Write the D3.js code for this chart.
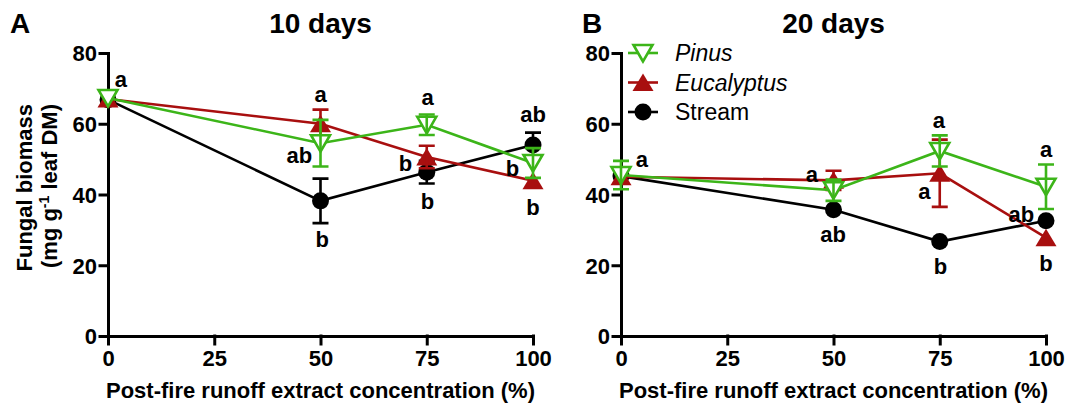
<!DOCTYPE html>
<html>
<head>
<meta charset="utf-8">
<script src="https://cdn.jsdelivr.net/npm/d3@7"></script>
<style>
  html, body { margin: 0; padding: 0; background: #fff; }
  svg { display: block; font-family: "Liberation Sans", Arial, sans-serif; }
  .tick text { font-size: 22px; font-weight: bold; fill: #000; font-family: "Liberation Sans", Arial, sans-serif; }
  .domain, .tick line { stroke: #000; stroke-width: 3px; stroke-linecap: square; }
  .lbl { font-size: 22px; font-weight: bold; }
</style>
</head>
<body>
<svg id="chart" width="1073" height="405"></svg>
<script>
/* Fungal biomass vs post-fire runoff extract concentration, two sampling dates. */
const conc = [0, 50, 75, 100];
const xTicks = [0, 25, 50, 75, 100];
const yTicks = [0, 20, 40, 60, 80];

// 10 days (mean, SE; 0 = bar hidden behind the symbol)
const pinus10 = [67.3, 54.5, 59.7, 48.9];
const pinus10Err = [0, 6.6, 2.9, 4.2];
const euc10 = [67.0, 60.0, 50.6, 43.9];
const euc10Err = [0, 4.0, 3.2, 0];
const stream10 = [66.8, 38.2, 46.3, 54.0];
const stream10Err = [0, 6.3, 3.2, 3.5];

// 20 days
const pinus20 = [45.5, 41.2, 52.3, 42.2];
const pinus20Err = [4.0, 3.0, 4.4, 6.3];
const euc20 = [45.0, 44.0, 46.0, 27.8];
const euc20Err = [0, 2.7, 9.5, 0];
const stream20 = [45.2, 35.7, 26.7, 32.6];
const stream20Err = [0, 0, 0, 0];

// significance letters: [x, y, text] in data units
const letters10 = [[3, 72.6, "a"], [50, 68.4, "a"], [45, 51.2, "ab"], [50.4, 27.4, "b"],
  [75.2, 67.6, "a"], [70, 49, "b"], [75.2, 38, "b"],
  [100, 62.8, "ab"], [95.2, 47.6, "b"], [100, 36.4, "b"]];
const letters20 = [[4.9, 50, "a"], [44.9, 45.8, "a"], [49.9, 28.9, "ab"],
  [74.8, 60.9, "a"], [71.4, 41, "a"], [75.2, 19.8, "b"],
  [100, 52.8, "a"], [94.2, 34.4, "ab"], [100, 20.6, "b"]];

const GREEN = "#3cb519", RED = "#a80f0f", BLACK = "#000";
const seriesDef = [
  { key: "Stream", color: BLACK, shape: "circle", italic: false },
  { key: "Eucalyptus", color: RED, shape: "up", italic: true },
  { key: "Pinus", color: GREEN, shape: "down", italic: true },
];

const svg = d3.select("#chart");
const TOP = 53, BOT = 336, PW = 425;

function marker(g, shape, color, cx, cy) {
  if (shape === "circle") {
    g.append("circle").attr("cx", cx).attr("cy", cy).attr("r", 8.5).attr("fill", color);
  } else if (shape === "up") {
    g.append("path").attr("d", `M${cx},${cy - 9}L${cx - 10.5},${cy + 8.5}L${cx + 10.5},${cy + 8.5}Z`)
      .attr("fill", color);
  } else {
    g.append("path").attr("d", `M${cx},${cy + 8.5}L${cx - 9.5},${cy - 8}L${cx + 9.5},${cy - 8}Z`)
      .attr("fill", "#fff").attr("stroke", color).attr("stroke-width", 2.6).attr("stroke-linejoin", "miter");
  }
}

function panel(left, letterX, letter, title, data, letters, legend) {
  const x = d3.scaleLinear().domain([0, 100]).range([left, left + PW]);
  const y = d3.scaleLinear().domain([0, 80]).range([BOT, TOP]);
  const g = svg.append("g");

  g.append("g").attr("transform", `translate(0,${BOT})`)
    .call(d3.axisBottom(x).tickValues(xTicks).tickSize(8).tickSizeOuter(0).tickPadding(6))
    .selectAll(".tick text").attr("dy", "0.71em");
  g.append("g").attr("transform", `translate(${left},0)`)
    .call(d3.axisLeft(y).tickValues(yTicks).tickSize(8).tickSizeOuter(0).tickPadding(3))
    .selectAll(".tick text").attr("dy", "0.36em");

  g.append("text").attr("x", letterX).attr("y", 33).attr("font-size", 28).attr("font-weight", "bold").text(letter);
  g.append("text").attr("x", left + PW / 2).attr("y", 33).attr("text-anchor", "middle")
    .attr("font-size", 28).attr("font-weight", "bold").text(title);
  g.append("text").attr("x", left + PW / 2).attr("y", 398).attr("text-anchor", "middle")
    .attr("font-size", 22).attr("font-weight", "bold").text("Post-fire runoff extract concentration (%)");

  data.forEach(s => {
    const sg = g.append("g");
    const pts = conc.map((c, i) => [x(c), y(s.v[i])]);
    sg.append("path").attr("d", d3.line()(pts)).attr("fill", "none")
      .attr("stroke", s.color).attr("stroke-width", 2.6);
    conc.forEach((c, i) => marker(sg, s.shape, s.color, x(c), y(s.v[i])));
    conc.forEach((c, i) => {
      if (!s.e[i]) return;
      const cx = x(c), y0 = y(s.v[i] - s.e[i]), y1 = y(s.v[i] + s.e[i]);
      sg.append("path").attr("d", `M${cx},${y0}V${y1}M${cx - 8},${y0}H${cx + 8}M${cx - 8},${y1}H${cx + 8}`)
        .attr("stroke", s.color).attr("stroke-width", 2.6).attr("fill", "none");
    });
  });

  g.selectAll("text.lbl").data(letters).join("text").attr("class", "lbl")
    .attr("x", d => x(d[0])).attr("y", d => y(d[1])).attr("dy", "0.36em")
    .attr("text-anchor", "middle").text(d => d[2]);

  if (legend) {
    const order = [data[2], data[1], data[0]];
    order.forEach((s, i) => {
      const ly = TOP + i * 29.5;
      g.append("line").attr("x1", left + 7).attr("x2", left + 37).attr("y1", ly).attr("y2", ly)
        .attr("stroke", s.color).attr("stroke-width", 2.6);
      marker(g, s.shape, s.color, left + 22, ly);
      g.append("text").attr("x", left + 54).attr("y", ly).attr("dy", "0.36em")
        .attr("font-size", 23).attr("font-style", s.italic ? "italic" : "normal").text(s.key);
    });
  }
}

const mk = (vals, errs) => seriesDef.map((d, i) => ({ ...d, v: vals[i], e: errs[i] }));

panel(108, 10, "A", "10 days", mk([stream10, euc10, pinus10], [stream10Err, euc10Err, pinus10Err]), letters10, false);
panel(621, 582, "B", "20 days", mk([stream20, euc20, pinus20], [stream20Err, euc20Err, pinus20Err]), letters20, true);

// y-axis title for panel A
const yt = svg.append("text").attr("transform", "translate(32,104) rotate(-90)")
  .attr("text-anchor", "end").attr("font-size", 22).attr("font-weight", "bold");
yt.append("tspan").attr("x", 0).attr("y", 0).text("Fungal biomass");
const l2 = svg.append("text").attr("transform", "translate(57,104) rotate(-90)")
  .attr("text-anchor", "end").attr("font-size", 22).attr("font-weight", "bold");
l2.append("tspan").text("(mg g");
l2.append("tspan").attr("dy", -8).attr("font-size", 14).text("-1");
l2.append("tspan").attr("dy", 8).text(" leaf DM)");
</script>
</body>
</html>
